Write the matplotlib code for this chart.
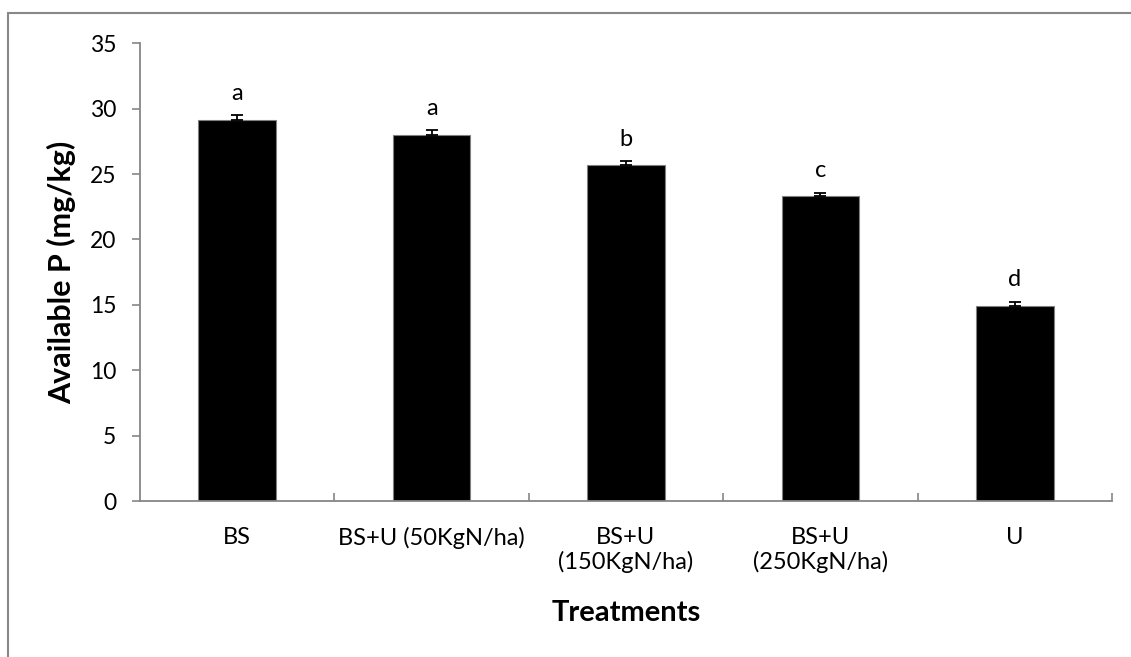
import matplotlib
matplotlib.use("Agg")
import matplotlib.pyplot as plt
from matplotlib.patches import Rectangle

categories = ["BS", "BS+U (50KgN/ha)", "BS+U\n(150KgN/ha)", "BS+U\n(250KgN/ha)", "U"]
values = [29.1, 28.0, 25.7, 23.3, 14.9]
errors = [0.4, 0.35, 0.28, 0.27, 0.35]
letters = ["a", "a", "b", "c", "d"]
yticks = [0, 5, 10, 15, 20, 25, 30, 35]

plt.rcParams['font.family'] = ['Lato', 'DejaVu Sans']
W, H = 1131, 657
fig = plt.figure(figsize=(W/100, H/100), dpi=100)
ax = fig.add_axes([140/W, 1-501/H, (1112-140)/W, (501-43.3)/H])

gray = "#868686"
x = list(range(len(categories)))
ax.bar(x, values, width=0.4, color="black", edgecolor="#808080", linewidth=0.8, zorder=2)
ax.errorbar(x, values, yerr=[[0]*len(errors), errors], fmt="none", ecolor="black",
            elinewidth=1.3, capsize=4, capthick=1.3, zorder=3)
for xi, v, e, l in zip(x, values, errors, letters):
    ax.annotate(l, (xi, v + e), xytext=(0, 11), textcoords="offset points",
                ha="center", va="baseline", fontsize=17)

ax.set_xlim(-0.5, len(categories) - 0.5)
ax.set_ylim(0, 35)
ax.set_yticks(yticks)
ax.set_yticklabels([str(t) for t in yticks], fontsize=16.5)
ax.set_xticks(x)
ax.set_xticklabels(categories, fontsize=17, linespacing=1.15)
ax.set_xticks([i + 0.5 for i in range(len(categories))], minor=True)
ax.tick_params(axis="x", which="major", length=0, pad=19)
ax.tick_params(axis="x", which="minor", direction="in", length=6, color=gray, width=1.2)
ax.tick_params(axis="y", direction="out", length=6, color=gray, width=1.2, pad=11)

for s in ["top", "right"]:
    ax.spines[s].set_visible(False)
for s in ["left", "bottom"]:
    ax.spines[s].set_color(gray)
    ax.spines[s].set_linewidth(1.3)

ax.set_ylabel("Available P (mg/kg)", fontsize=22, fontweight="bold", labelpad=10)
ax.set_xlabel("Treatments", fontsize=21, fontweight="bold", labelpad=19)

fig.patches.append(Rectangle((8/W, -0.2), 1.2, 1 - 13/H + 0.2, transform=fig.transFigure,
                             fill=False, edgecolor="#888888", linewidth=1.5))

fig.savefig("out.png", dpi=100)
